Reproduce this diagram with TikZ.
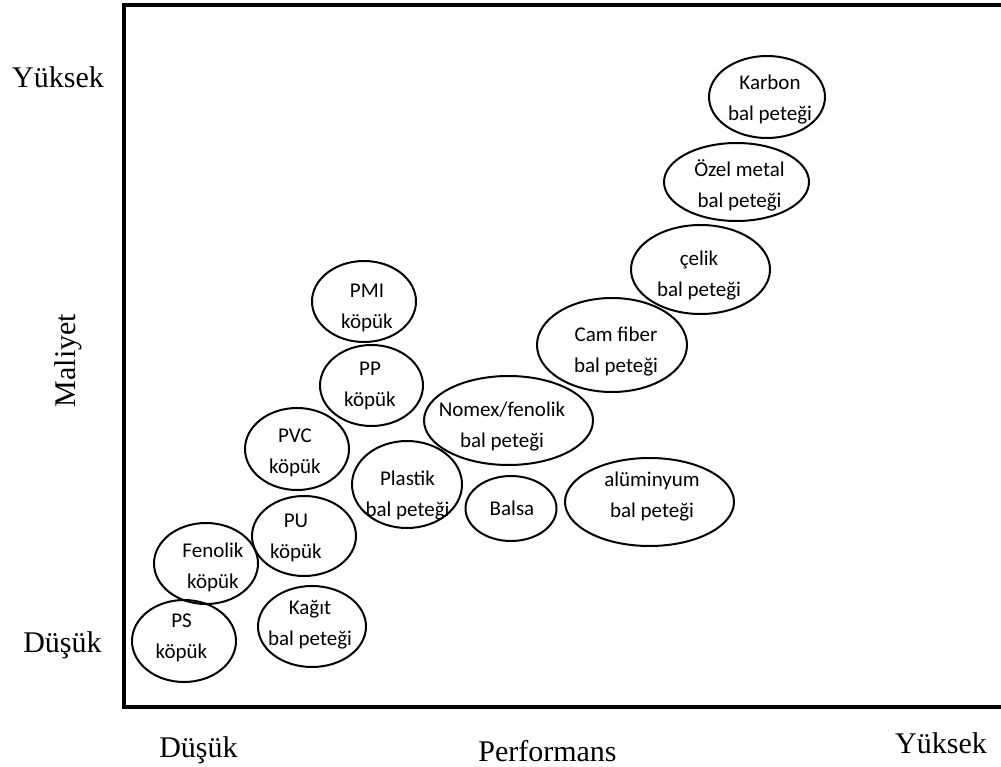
\documentclass[tikz,border=0pt]{standalone}
\usepackage{fontspec}
\setmainfont{Liberation Serif}
\newfontfamily\calib{Carlito}
\usetikzlibrary{shapes.geometric}
\tikzset{
  blob/.style={draw=black, line width=2pt, ellipse, inner sep=0pt},
  btext/.style={align=center, inner sep=0pt, font=\calib\fontsize{21}{31}\selectfont},
  axlabel/.style={inner sep=0pt, anchor=base, font=\fontsize{30}{34}\selectfont},
  frameline/.style={line width=4pt, draw=black}
}
\begin{document}
\begin{tikzpicture}[x=1pt, y=-1pt]
\useasboundingbox (0,0) rectangle (1001,767);
\clip (0,0) rectangle (1001,767);
% frame
\draw[frameline] (1020,5) -- (124,5) -- (124,706.5) -- (1020,706.5);
% axis labels
\node[axlabel] (ytop) at (58,88) {Yüksek};
\node[axlabel] (ybot) at (62.5,652) {Düşük};
\node[axlabel, rotate=90] (ylab) at (75,360.5) {Maliyet};
\node[axlabel] (xlow) at (198.5,757) {Düşük};
\node[axlabel] (xlab) at (547.5,761) {Performans};
\node[axlabel] (xhigh) at (941,753) {Yüksek};
% ellipses
\node[blob, minimum width=116pt, minimum height=82pt] (karbon) at (767,97) {};
\node[blob, minimum width=145pt, minimum height=78pt] (ozel) at (736.5,182) {};
\node[blob, minimum width=139pt, minimum height=89pt] (celik) at (700.5,269.5) {};
\node[blob, minimum width=150pt, minimum height=94pt] (cam) at (612,345) {};
\node[blob, minimum width=169pt, minimum height=89pt] (nomex) at (508.5,420.5) {};
\node[blob, minimum width=91pt, minimum height=65pt] (balsa) at (511,508.5) {};
\node[blob, minimum width=169pt, minimum height=88pt] (alu) at (649.5,502) {};
\node[blob, minimum width=110pt, minimum height=87pt] (plastik) at (407,484.5) {};
\node[blob, minimum width=104pt, minimum height=81pt] (pmi) at (364,301.5) {};
\node[blob, minimum width=103pt, minimum height=81pt] (pp) at (371.5,385.5) {};
\node[blob, minimum width=104pt, minimum height=82pt] (pvc) at (297,449) {};
\node[blob, minimum width=104pt, minimum height=80pt] (pu) at (304,536) {};
\node[blob, minimum width=104pt, minimum height=81pt] (fenolik) at (206,563.5) {};
\node[blob, minimum width=104pt, minimum height=82pt] (ps) at (184,641) {};
\node[blob, minimum width=108pt, minimum height=81pt] (kagit) at (312,626.5) {};
% texts
\node[btext] (karbon-t) at (770,100) {Karbon\\bal peteği};
\node[btext] (ozel-t) at (739.5,185) {Özel metal\\bal peteği};
\node[btext] (celik-t) at (699,275.5) {çelik\\bal peteği};
\node[btext] (cam-t) at (616,352) {Cam fiber\\bal peteği};
\node[btext] (nomex-t) at (502,427) {Nomex/fenolik\\bal peteği};
\node[btext] (balsa-t) at (512,508) {Balsa};
\node[btext] (alu-t) at (652,497) {alüminyum\\bal peteği};
\node[btext] (plastik-t) at (407.5,496) {Plastik\\bal peteği};
\node[btext] (pmi-t) at (367,307.5) {PMI\\köpük};
\node[btext] (pp-t) at (370,386) {PP\\köpük};
\node[btext] (pvc-t) at (295,453) {PVC\\köpük};
\node[btext] (pu-t) at (296,537.5) {PU\\köpük};
\node[btext] (fenolik-t) at (213,567.5) {Fenolik\\köpük};
\node[btext] (ps-t) at (181.5,638) {PS\\köpük};
\node[btext] (kagit-t) at (310,624.5) {Kağıt\\bal peteği};
\end{tikzpicture}
\end{document}
